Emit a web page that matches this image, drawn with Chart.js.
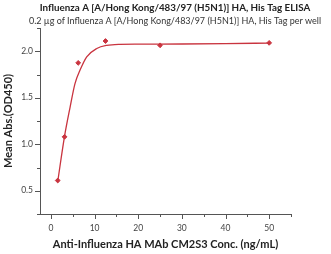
<!DOCTYPE html>
<html>
<head>
<meta charset="utf-8">
<script src="https://cdn.jsdelivr.net/npm/chart.js@4"></script>
<style>
  body { margin: 0; background: #fff; }
  #wrap { width: 331px; height: 254px; }
</style>
</head>
<body>
<div id="wrap"><canvas id="c" width="331" height="254"></canvas></div>
<script>
// measured points (ng/mL vs OD450)
const concs = [1.5625, 3.125, 6.25, 12.5, 25, 50];
const od450 = [0.61, 1.08, 1.875, 2.11, 2.064, 2.09];

// fitted curve
const fitX = [1.5625, 3.1, 4.4, 5.5, 6.7, 8.2, 10.5, 12.8, 15.8, 20, 30, 40, 50];
const fitY = [0.60, 1.08, 1.40, 1.65, 1.80, 1.94, 2.03, 2.064, 2.075, 2.077, 2.078, 2.082, 2.088];

const xTicks = [0, 5, 10, 15, 20, 25, 30, 35, 40, 45, 50, 55];
const yTicks = [0.25, 0.5, 0.75, 1.0, 1.25, 1.5, 1.75, 2.0, 2.25];

const titleText = 'Influenza A [A/Hong Kong/483/97 (H5N1)] HA, His Tag ELISA';
const subtitleText = '0.2 \u00b5g of Influenza A [A/Hong Kong/483/97 (H5N1)] HA, His Tag per well';

const red = '#c9343f';
const axisCol = '#555';

function pts(xs, ys) {
  return xs.map((x, i) => ({ x: x, y: ys[i] }));
}

// outward ticks, major long and minor short
const axisTicks = {
  id: 'axisTicks',
  afterDraw(chart) {
    const ctx = chart.ctx;
    const xs = chart.scales.x, ys = chart.scales.y;
    ctx.save();
    ctx.strokeStyle = axisCol;
    ctx.lineWidth = 1;
    xTicks.forEach(v => {
      const px = Math.round(xs.getPixelForValue(v)) + 0.5;
      const len = v % 10 === 0 ? 5 : 3;
      ctx.beginPath();
      ctx.moveTo(px, ys.bottom);
      ctx.lineTo(px, ys.bottom + len);
      ctx.stroke();
    });
    yTicks.forEach(v => {
      const py = Math.round(ys.getPixelForValue(v)) + 0.5;
      const len = (Math.round(v * 100) % 50 === 0) ? 5 : 3;
      ctx.beginPath();
      ctx.moveTo(xs.left, py);
      ctx.lineTo(xs.left - len, py);
      ctx.stroke();
    });
    ctx.restore();
  }
};

// title + subtitle, centred a bit right of the canvas middle like the original
const headings = {
  id: 'headings',
  afterDraw(chart) {
    const ctx = chart.ctx;
    ctx.save();
    ctx.textAlign = 'center';
    ctx.textBaseline = 'middle';
    ctx.fillStyle = '#222';
    ctx.font = 'bold 9.8px Lato';
    ctx.fillText(titleText, 175, 8);
    ctx.fillStyle = '#333';
    ctx.font = '9px Lato';
    ctx.fillText(subtitleText, 175, 21);
    ctx.restore();
  }
};

new Chart(document.getElementById('c'), {
  type: 'scatter',
  data: {
    datasets: [
      {
        data: pts(fitX, fitY),
        showLine: true,
        borderColor: red,
        borderWidth: 1.3,
        pointRadius: 0,
        cubicInterpolationMode: 'monotone',
        fill: false
      },
      {
        data: pts(concs, od450),
        pointStyle: 'rectRot',
        pointRadius: 2.4,
        backgroundColor: red,
        borderColor: red,
        borderWidth: 1
      }
    ]
  },
  options: {
    responsive: false,
    animation: false,
    layout: { padding: { left: 1, right: 40, top: 28, bottom: 0 } },
    plugins: {
      legend: { display: false },
      tooltip: { enabled: false },
      title: { display: false }
    },
    scales: {
      x: {
        type: 'linear',
        min: -2.5,
        max: 55,
        afterBuildTicks: s => { s.ticks = xTicks.map(v => ({ value: v })); },
        afterFit: s => { s.height = 40; },
        grid: { display: false, drawTicks: false },
        border: { display: true, color: axisCol, width: 1 },
        ticks: {
          padding: 9,
          maxRotation: 0,
          color: '#444',
          font: { family: 'Lato', size: 8.5 },
          callback: v => (v % 10 === 0 && v <= 50) ? String(v) : ''
        },
        title: {
          display: true,
          text: 'Anti-Influenza HA MAb CM2S3 Conc. (ng/mL)',
          color: '#222',
          font: { family: 'Lato', size: 11, weight: 'bold' },
          padding: { top: 0, bottom: 3 }
        }
      },
      y: {
        type: 'linear',
        min: 0.25,
        max: 2.25,
        afterBuildTicks: s => { s.ticks = yTicks.map(v => ({ value: v })); },
        afterFit: s => { s.width = 39; },
        grid: { display: false, drawTicks: false },
        border: { display: true, color: axisCol, width: 1 },
        ticks: {
          padding: 7,
          color: '#444',
          font: { family: 'Lato', size: 8.5 },
          callback: v => (Math.round(v * 100) % 50 === 0 && v >= 0.5 && v <= 2.0) ? v.toFixed(1) : ''
        },
        title: {
          display: true,
          text: 'Mean Abs.(OD450)',
          color: '#222',
          font: { family: 'Lato', size: 11, weight: 'bold' },
          padding: { top: 1, bottom: 2 }
        }
      }
    }
  },
  plugins: [axisTicks, headings]
});
</script>
</body>
</html>
